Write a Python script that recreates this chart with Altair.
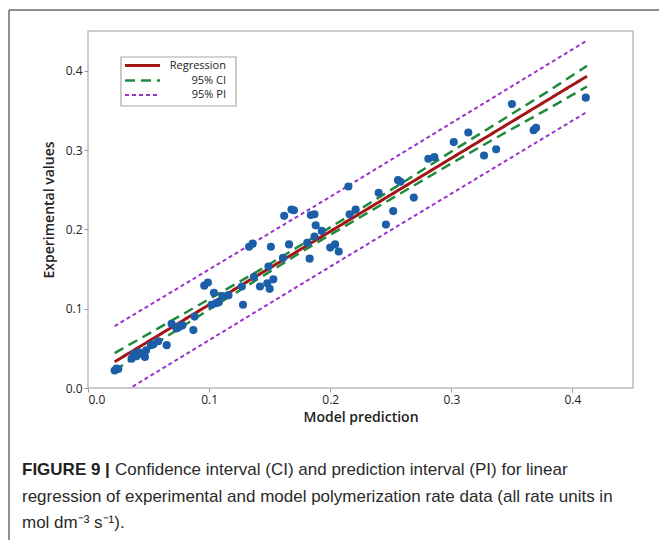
import altair as alt
import pandas as pd

# Polymerization rate: model prediction vs experimental value (mol dm-3 s-1)
model_pred = [
    0.022, 0.025, 0.0235, 0.036, 0.038, 0.040, 0.042, 0.047, 0.048, 0.046,
    0.052, 0.054, 0.058, 0.065, 0.069, 0.073, 0.075, 0.078, 0.076,
    0.087, 0.088, 0.096, 0.099, 0.102, 0.104, 0.106, 0.108, 0.111, 0.116,
    0.128, 0.127, 0.133, 0.136, 0.137, 0.142, 0.148, 0.150, 0.149, 0.151, 0.153,
    0.161, 0.162, 0.166, 0.168, 0.170, 0.181, 0.183, 0.184, 0.187, 0.188, 0.187, 0.193,
    0.200, 0.204, 0.207, 0.215, 0.216, 0.221,
    0.240, 0.246, 0.252, 0.256, 0.258, 0.269, 0.281, 0.286,
    0.302, 0.314, 0.327, 0.337, 0.350, 0.368, 0.370, 0.411,
]
experimental = [
    0.022, 0.024, 0.0245, 0.037, 0.043, 0.040, 0.045, 0.039, 0.0475, 0.042,
    0.054, 0.055, 0.059, 0.054, 0.081, 0.075, 0.077, 0.079, 0.078,
    0.073, 0.090, 0.129, 0.133, 0.105, 0.120, 0.107, 0.108, 0.116, 0.117,
    0.105, 0.128, 0.178, 0.182, 0.140, 0.128, 0.132, 0.125, 0.153, 0.178, 0.137,
    0.164, 0.217, 0.181, 0.225, 0.224, 0.183, 0.163, 0.218, 0.219, 0.205, 0.191, 0.198,
    0.177, 0.181, 0.172, 0.254, 0.219, 0.225,
    0.246, 0.206, 0.223, 0.262, 0.260, 0.240, 0.289, 0.291,
    0.310, 0.322, 0.293, 0.301, 0.358, 0.325, 0.328, 0.366,
]

# Fitted regression line
fit_x = [0.022, 0.412]
fit_y = [0.033, 0.393]

# 95% confidence band
ci_x = [0.022, 0.06, 0.10, 0.14, 0.18, 0.22, 0.26, 0.30, 0.34, 0.38, 0.412]
ci_upper = [0.044, 0.077, 0.112, 0.147, 0.184, 0.221, 0.259, 0.298, 0.336, 0.374, 0.406]
ci_lower = [0.022, 0.060, 0.099, 0.137, 0.175, 0.211, 0.247, 0.283, 0.318, 0.352, 0.380]

# 95% prediction band
pi_x = [0.022, 0.20, 0.412]
pi_upper = [0.078, 0.241, 0.438]
pi_lower = [-0.012, 0.153, 0.348]

series_names = ["Regression", "95% CI", "95% PI"]
series_colors = ["#a31616", "#1f8a3c", "#9a32cc"]
series_dash = [[1, 0], [10, 6], [4, 3]]
series_width = [3, 2.5, 2]

caption_bold = "FIGURE 9 |"
caption_lines = [
    "Confidence interval (CI) and prediction interval (PI) for linear",
    "regression of experimental and model polymerization rate data (all rate units in",
    "mol dm\u207b\u00b3 s\u207b\u00b9).",
]

points_df = pd.DataFrame({"x": model_pred, "y": experimental})

rows = []
for xv, yv in zip(fit_x, fit_y):
    rows.append({"series": series_names[0], "band": "fit", "x": xv, "y": yv})
for xv, up, lo in zip(ci_x, ci_upper, ci_lower):
    rows.append({"series": series_names[1], "band": "upper", "x": xv, "y": up})
    rows.append({"series": series_names[1], "band": "lower", "x": xv, "y": lo})
for xv, up, lo in zip(pi_x, pi_upper, pi_lower):
    rows.append({"series": series_names[2], "band": "upper", "x": xv, "y": up})
    rows.append({"series": series_names[2], "band": "lower", "x": xv, "y": lo})
lines_df = pd.DataFrame(rows)

W, H = 545, 357
PAD_L, PAD_T = 88, 31

x_enc = alt.X(
    "x:Q",
    scale=alt.Scale(domain=[0, 0.45], nice=False, zero=False),
    axis=alt.Axis(values=[0, 0.1, 0.2, 0.3, 0.4], format=".1f", titlePadding=5),
    title="Model prediction",
)
y_enc = alt.Y(
    "y:Q",
    scale=alt.Scale(domain=[0, 0.45], nice=False, zero=False),
    axis=alt.Axis(values=[0, 0.1, 0.2, 0.3, 0.4], format=".1f", titlePadding=9),
    title="Experimental values",
)

layers = []
# bands first (PI, CI), then the fit on top
for i in [2, 1, 0]:
    layers.append(
        alt.Chart(lines_df)
        .transform_filter(alt.datum.series == series_names[i])
        .mark_line(
            clip=True,
            color=series_colors[i],
            strokeDash=series_dash[i],
            strokeWidth=series_width[i],
        )
        .encode(x=x_enc, y=y_enc, detail="band:N", order="x:Q")
    )

layers.append(
    alt.Chart(points_df)
    .mark_circle(size=66, color="#1c5ea8", opacity=1)
    .encode(x=x_enc, y=y_enc)
)

# Legend box
one = pd.DataFrame({"k": [0]})
layers.append(
    alt.Chart(one)
    .mark_rect(fill="white", stroke="#a8a8a8", strokeWidth=1.2)
    .encode(x=alt.value(121 - PAD_L), x2=alt.value(236 - PAD_L),
            y=alt.value(57 - PAD_T), y2=alt.value(106 - PAD_T))
)
legend_rows = [65.5, 80.5, 95]
for i, name in enumerate(series_names):
    ry = legend_rows[i] - PAD_T
    layers.append(
        alt.Chart(one)
        .mark_rule(color=series_colors[i], strokeDash=series_dash[i],
                   strokeWidth=series_width[i])
        .encode(x=alt.value(125 - PAD_L), x2=alt.value(160 - PAD_L), y=alt.value(ry))
    )
    layers.append(
        alt.Chart(one)
        .mark_text(text=name, align="right", baseline="middle", font="Open Sans",
                   fontSize=11, color="#222")
        .encode(x=alt.value(226 - PAD_L), y=alt.value(ry))
    )

# Outer figure frame (left and top edges)
layers.append(
    alt.Chart(one).mark_rule(color="#6a6a6a", strokeWidth=1.5)
    .encode(x=alt.value(9 - PAD_L), y=alt.value(10 - PAD_T), y2=alt.value(540 - PAD_T))
)
layers.append(
    alt.Chart(one).mark_rule(color="#6a6a6a", strokeWidth=1.5)
    .encode(x=alt.value(9 - PAD_L), x2=alt.value(659 - PAD_L), y=alt.value(10 - PAD_T))
)

# Caption
cap_y = [470, 496.5, 523]
layers.append(
    alt.Chart(one)
    .mark_text(text=caption_bold, align="left", baseline="middle", font="Liberation Sans",
               fontSize=17, fontWeight="bold", color="#222")
    .encode(x=alt.value(22 - PAD_L), y=alt.value(cap_y[0] - PAD_T))
)
cap_x = [115, 22, 22]
for i, line in enumerate(caption_lines):
    layers.append(
        alt.Chart(one)
        .mark_text(text=line, align="left", baseline="middle", font="Liberation Sans",
                   fontSize=17, color="#2a2a2a")
        .encode(x=alt.value(cap_x[i] - PAD_L), y=alt.value(cap_y[i] - PAD_T))
    )

chart = (
    alt.layer(*layers)
    .properties(
        width=W,
        height=H,
        padding={"left": PAD_L, "top": PAD_T, "right": 659 - PAD_L - W, "bottom": 540 - PAD_T - H},
        autosize=alt.AutoSizeParams(type="none"),
        background="white",
    )
    .configure_view(stroke="#bdbdbd", strokeWidth=1.5)
    .configure_axis(
        domain=False,
        grid=False,
        ticks=True,
        tickSize=4,
        tickColor="#9a9a9a",
        labelPadding=2,
        labelFont="Open Sans",
        labelFontSize=12,
        labelColor="#222",
        titleFont="Open Sans",
        titleFontSize=14,
        titleFontWeight=600,
        titleColor="#222",
    )
)

chart.save("out.html", embed_options={"renderer": "svg", "actions": False})
